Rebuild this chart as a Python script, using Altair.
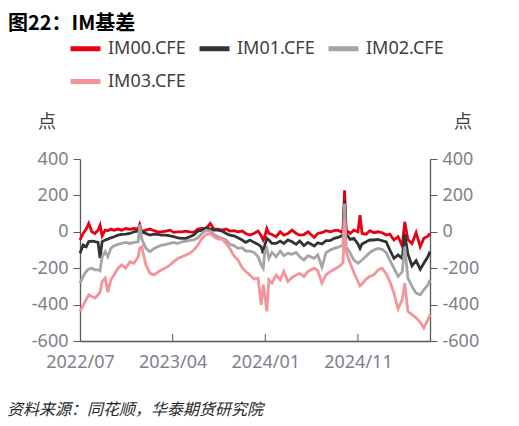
import altair as alt
import pandas as pd

# trading-day index of each sampled point (0 = 2022/07 listing)
day_idx = [0, 6, 12, 17, 23, 29, 35, 39, 43, 49, 54, 60, 66, 74, 81, 89, 97, 105, 113, 116,
           120, 128, 136, 144, 151, 159, 167, 175, 182, 190, 198, 206, 213, 221,
           229, 237, 245, 253, 260, 268, 276, 284, 291, 299, 307, 315, 322, 330, 338, 346,
           352, 356, 359, 363, 367, 373, 381, 389, 396, 404, 412, 420, 427, 435, 443,
           455, 462, 470, 478, 486, 494, 501, 507, 511, 514, 517, 525, 532, 540, 544,
           548, 556, 563, 571, 579, 587, 595, 602, 610, 618, 626, 631, 637, 645, 653,
           661, 668, 676, 680]

im00 = [-45, -9, 15, 46, 0, -9, 9, 37, -22, 9, 6, 15, 9, 15, 9, 18, 13, 18, 15, 40,
        0, 9, 15, 6, 0, 0, 4, 9, -3, 0, 0, 4, 0, -3,
        15, 18, 18, 46, 15, 15, 9, 15, 4, 6, 0, 4, -9, -18, -9, 4,
        -22, -45, -27, 18, -9, -15, -27, 0, -18, -9, 9, -9, -18, -15, 0,
        -31, -9, -5, 6, 0, 6, 9, 0, 9, 228, 9, -9, 9, 0, 91,
        -9, -13, 6, -5, 0, -5, -18, -13, -45, -27, -78, 55, -42, -64, -5,
        -82, -36, -24, -9]

im01 = [-118, -73, -82, -54, -51, -54, -58, -145, -54, -45, -40, -33, -27, -18, -14, -13, -9, 0, 4, 18,
        0, -9, -18, -13, -14, -18, -18, -22, -27, -33, -36, -36, -27, -18,
        4, 9, 22, 15, 9, 9, 4, -9, -18, -22, -33, -45, -58, -45, -58, -69,
        -82, -118, -73, -36, -45, -64, -64, -51, -64, -45, -55, -69, -51, -76, -58,
        -78, -60, -67, -49, -49, -36, -31, -24, -18, 173, -9, -42, -36, -67, -91,
        -67, -55, -45, -45, -42, -49, -55, -100, -146, -127, -146, -13, -122, -187, -158,
        -206, -173, -136, -109]

im02 = [-282, -246, -218, -204, -200, -209, -209, -215, -137, -109, -137, -91, -76, -69, -64, -58, -64, -58, -55, 40,
        -40, -91, -109, -91, -82, -73, -69, -64, -58, -64, -55, -51, -47, -45,
        -33, -9, 9, 4, -15, -27, -36, -45, -69, -76, -91, -87, -106, -106, -113, -137,
        -182, -200, -109, -91, -146, -113, -137, -106, -131, -118, -124, -113, -137, -155, -131,
        -146, -127, -195, -115, -100, -91, -86, -78, -73, 155, -82, -118, -155, -173, -164,
        -155, -133, -115, -100, -91, -96, -115, -155, -200, -246, -219, -82, -255, -300, -337,
        -346, -319, -291, -264]

im03 = [-437, -404, -373, -346, -355, -364, -346, -331, -273, -255, -331, -264, -237, -200, -182, -200, -164, -173, -137, -91,
        -82, -182, -228, -237, -222, -209, -197, -182, -164, -146, -137, -128, -118, -100,
        -73, -36, -15, -9, -27, -40, -40, -64, -91, -131, -155, -197, -218, -237, -259, -255,
        -401, -291, -346, -437, -264, -282, -237, -264, -218, -273, -251, -237, -228, -246, -218,
        -200, -213, -282, -237, -219, -206, -195, -182, -169, 64, -109, -173, -224, -273, -297,
        -286, -260, -246, -237, -209, -200, -231, -273, -337, -424, -373, -282, -437, -455, -473,
        -497, -528, -482, -455]

series_names = ["IM00.CFE", "IM01.CFE", "IM02.CFE", "IM03.CFE"]
series_colors = ["#E60012", "#333333", "#A5A5A5", "#F4949A"]
tick_pos = [0, 180, 360, 540]
tick_labels = ["2022/07", "2023/04", "2024/01", "2024/11"]
y_ticks = [400, 200, 0, -200, -400, -600]
title_text = "图22：IM基差"
unit_text = "点"
source_text = "资料来源：同花顺，华泰期货研究院"

rows = []
for name, vals in zip(series_names, [im00, im01, im02, im03]):
    for i, (d, v) in enumerate(zip(day_idx, vals)):
        rows.append({"day": d, "value": v, "series": name, "order": i})
df = pd.DataFrame(rows)

W, H = 350, 182
FONT = "Noto Sans"
LABEL_COLOR = "#7F7F8C"
AXIS_COLOR = "#595959"

label_expr = " : ".join(f"datum.value == {p} ? '{l}'" for p, l in zip(tick_pos, tick_labels)) + " : ''"
yscale = alt.Scale(domain=[-600, 400], nice=False, zero=False)
xscale = alt.Scale(domain=[0, 680], nice=False, zero=False)
xaxis = alt.Axis(values=tick_pos, labelExpr=label_expr, ticks=False, grid=False,
                 domainColor=AXIS_COLOR, domainWidth=1.3, labelFontSize=18,
                 labelColor=LABEL_COLOR, labelFont=FONT, labelFlush=False,
                 labelOverlap=False, labelPadding=12, title=None)

lines = alt.Chart(df).mark_line(strokeWidth=2.8).encode(
    x=alt.X("day:Q", scale=xscale, axis=xaxis),
    y=alt.Y("value:Q", scale=yscale,
            axis=alt.Axis(orient="left", values=y_ticks, labelExpr="datum.value + ''", grid=False,
                          tickSize=7, tickColor=AXIS_COLOR, domainColor=AXIS_COLOR, domainWidth=1.3,
                          labelFontSize=18, labelColor=LABEL_COLOR, labelFont=FONT,
                          labelPadding=5, title=None)),
    color=alt.Color("series:N", scale=alt.Scale(domain=series_names, range=series_colors),
                    legend=alt.Legend(orient="none", legendX=-12, legendY=-128, columns=3,
                                      direction="horizontal",
                                      title=None, symbolType="stroke", symbolSize=900,
                                      symbolStrokeWidth=5, labelFontSize=18, labelColor="#404040",
                                      labelFont=FONT, labelOffset=5, columnPadding=3,
                                      rowPadding=5, padding=0, labelLimit=0)),
    order="order:Q",
)

xticks = alt.Chart(pd.DataFrame({"day": tick_pos[1:]})).mark_rule(color=AXIS_COLOR, strokeWidth=1).encode(
    x=alt.X("day:Q", scale=xscale, axis=xaxis),
    y=alt.value(H),
    y2=alt.value(H - 7),
)

right_axis = alt.Chart(pd.DataFrame({"v": y_ticks})).mark_point(opacity=0).encode(
    y=alt.Y("v:Q", scale=yscale,
            axis=alt.Axis(orient="right", values=y_ticks, labelExpr="datum.value + ''", grid=False,
                          tickSize=7, tickColor=AXIS_COLOR, domainColor=AXIS_COLOR, domainWidth=1.3,
                          labelFontSize=18, labelColor=LABEL_COLOR, labelFont=FONT,
                          labelPadding=5, title=None)),
)

title_t = alt.Chart(pd.DataFrame({"t": [title_text]})).mark_text(
    align="left", baseline="alphabetic", fontSize=20, fontWeight="bold",
    font="Noto Sans CJK SC", color="#000000").encode(text="t:N", x=alt.value(-72), y=alt.value(-129))

unit_l = alt.Chart(pd.DataFrame({"t": [unit_text]})).mark_text(
    align="center", baseline="middle", fontSize=18, font="Noto Sans CJK SC",
    color="#404040").encode(text="t:N", x=alt.value(-33), y=alt.value(-36))

unit_r = alt.Chart(pd.DataFrame({"t": [unit_text]})).mark_text(
    align="center", baseline="middle", fontSize=18, font="Noto Sans CJK SC",
    color="#404040").encode(text="t:N", x=alt.value(383), y=alt.value(-36))

src = alt.Chart(pd.DataFrame({"t": [source_text]})).mark_text(
    align="left", baseline="middle", fontSize=16, font="Noto Sans CJK SC", fontStyle="italic",
    color="#262626").encode(text="t:N", x=alt.value(-73), y=alt.value(251))

chart = alt.layer(lines, xticks, right_axis, title_t, unit_l, unit_r, src).resolve_axis(
    y="independent"
).properties(
    width=W, height=H,
    padding={"left": 72, "top": 151, "right": 80, "bottom": 86},
    autosize=alt.AutoSizeParams(type="none"),
).configure_view(stroke=None)

chart.save("out.html", embed_options={"renderer": "svg", "actions": False})
